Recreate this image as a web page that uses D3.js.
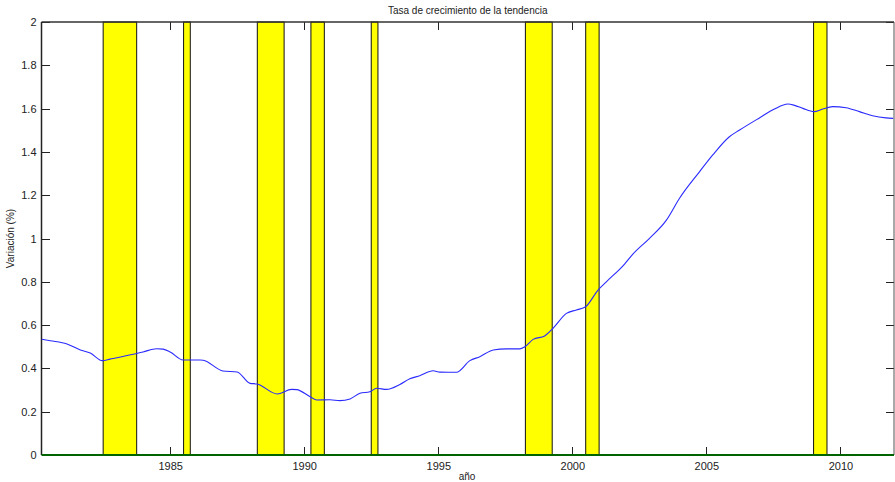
<!DOCTYPE html>
<html>
<head>
<meta charset="utf-8">
<script src="https://cdn.jsdelivr.net/npm/d3@7"></script>
<style>
  body { margin: 0; background: #fff; }
  text { font-family: "Liberation Sans", Arial, sans-serif; fill: #222; }
</style>
</head>
<body>
<svg id="chart" width="895" height="482"></svg>
<script>
// años (lectura del gráfico) y tasa de crecimiento de la tendencia (%)
var years = [1980.21, 1980.53, 1981.15, 1981.65, 1982.02, 1982.47, 1982.76, 1983.62, 1983.99, 1984.50,
  1984.74, 1985.00, 1985.48, 1986.12, 1986.23, 1986.97, 1987.50, 1987.98, 1988.24, 1988.99,
  1989.53, 1989.72, 1990.22, 1990.47, 1990.96, 1991.33, 1991.71, 1992.08, 1992.45, 1992.70,
  1993.07, 1993.57, 1993.94, 1994.31, 1994.81, 1995.06, 1995.68, 1996.18, 1996.55, 1997.05,
  1997.54, 1998.04, 1998.23, 1998.54, 1998.97, 1999.28, 1999.78, 2000.15, 2000.50, 2000.96,
  2001.27, 2001.95, 2002.26, 2002.88, 2003.51, 2004.00, 2004.75, 2005.24, 2005.86, 2006.24,
  2006.98, 2007.54, 2008.04, 2008.29, 2008.60, 2009.02, 2009.34, 2009.71, 2010.21, 2010.71,
  2011.20, 2011.70, 2011.97];
var tasa = [0.535, 0.528, 0.513, 0.485, 0.471, 0.436, 0.443, 0.465, 0.476, 0.491,
  0.489, 0.476, 0.439, 0.439, 0.438, 0.388, 0.383, 0.331, 0.328, 0.282,
  0.303, 0.302, 0.269, 0.254, 0.255, 0.251, 0.259, 0.285, 0.292, 0.308,
  0.303, 0.326, 0.352, 0.366, 0.389, 0.383, 0.382, 0.436, 0.454, 0.485,
  0.490, 0.490, 0.500, 0.534, 0.550, 0.585, 0.654, 0.670, 0.685, 0.762,
  0.800, 0.882, 0.928, 1.001, 1.085, 1.186, 1.309, 1.386, 1.470, 1.501,
  1.557, 1.598, 1.621, 1.615, 1.601, 1.586, 1.598, 1.609, 1.604, 1.586,
  1.567, 1.557, 1.555];

// periodos sombreados (inicio, fin)
var bandStart = [1982.5, 1985.5, 1988.25, 1990.25, 1992.5, 1998.25, 2000.5, 2009.0];
var bandEnd = [1983.75, 1985.75, 1989.25, 1990.75, 1992.75, 1999.25, 2001.0, 2009.5];

var xTicks = [1985, 1990, 1995, 2000, 2005, 2010];
var yTicks = [0, 0.2, 0.4, 0.6, 0.8, 1, 1.2, 1.4, 1.6, 1.8, 2];

var mLeft = 41.5, mRight = 894, mTop = 22, mBottom = 455;
var tickLen = 8;

var svg = d3.select('#chart');

var x = d3.scaleLinear().domain([1980.2, 2012.0]).range([mLeft, mRight]);
var y = d3.scaleLinear().domain([0, 2]).range([mBottom, mTop]);

var bands = d3.range(bandStart.length).map(function (i) {
  return { a: bandStart[i], b: bandEnd[i] };
});

svg.append('g').selectAll('rect')
  .data(bands)
  .enter().append('rect')
  .attr('x', function (d) { return x(d.a); })
  .attr('y', mTop)
  .attr('width', function (d) { return x(d.b) - x(d.a); })
  .attr('height', mBottom - mTop)
  .attr('fill', '#ffff00')
  .attr('stroke', '#111')
  .attr('stroke-width', 1);

// etiquetas de los ejes (las marcas se dibujan aparte, hacia dentro)
var fmt = function (d) { return d3.format('~g')(d); };

svg.append('g')
  .attr('transform', 'translate(0,' + mBottom + ')')
  .call(d3.axisBottom(x).tickValues(xTicks).tickSize(0).tickPadding(7).tickFormat(d3.format('d')))
  .call(function (g) {
    g.select('.domain').remove();
    g.selectAll('text').style('font-size', '11px');
  });

svg.append('g')
  .attr('transform', 'translate(' + mLeft + ',0)')
  .call(d3.axisLeft(y).tickValues(yTicks).tickSize(0).tickPadding(5).tickFormat(fmt))
  .call(function (g) {
    g.select('.domain').remove();
    g.selectAll('text').style('font-size', '11px');
  });

var ticks = svg.append('g')
  .attr('stroke', '#222')
  .attr('stroke-width', 1)
  .attr('shape-rendering', 'crispEdges');

// marcas x: abajo y arriba
[mBottom, mTop].forEach(function (base, j) {
  ticks.selectAll('line.xt' + j)
    .data(xTicks)
    .enter().append('line')
    .attr('class', 'xt' + j)
    .attr('x1', function (d) { return Math.round(x(d)) + 0.5; })
    .attr('x2', function (d) { return Math.round(x(d)) + 0.5; })
    .attr('y1', base)
    .attr('y2', j === 0 ? base - tickLen : base + tickLen);
});

// marcas y: izquierda y derecha
[mLeft, mRight].forEach(function (base, j) {
  ticks.selectAll('line.yt' + j)
    .data(yTicks)
    .enter().append('line')
    .attr('class', 'yt' + j)
    .attr('y1', function (d) { return Math.round(y(d)) + 0.5; })
    .attr('y2', function (d) { return Math.round(y(d)) + 0.5; })
    .attr('x1', base)
    .attr('x2', j === 0 ? base + tickLen : base - tickLen);
});

// marco
svg.append('line').attr('x1', mLeft).attr('x2', mRight).attr('y1', mTop).attr('y2', mTop)
  .attr('stroke', '#333').attr('stroke-width', 1.5);
svg.append('line').attr('x1', mLeft).attr('x2', mLeft).attr('y1', mTop).attr('y2', mBottom)
  .attr('stroke', '#222').attr('stroke-width', 1.5);
svg.append('line').attr('x1', mRight).attr('x2', mRight).attr('y1', mTop).attr('y2', mBottom)
  .attr('stroke', '#555').attr('stroke-width', 1);

// línea de cero
svg.append('line')
  .attr('x1', mLeft).attr('x2', mRight)
  .attr('y1', y(0)).attr('y2', y(0))
  .attr('stroke', '#006400').attr('stroke-width', 2);

var line = d3.line()
  .x(function (d, i) { return x(years[i]); })
  .y(function (d) { return y(d); })
  .curve(d3.curveMonotoneX);

svg.append('path')
  .datum(tasa)
  .attr('d', line)
  .attr('fill', 'none')
  .attr('stroke', '#2a2aff')
  .attr('stroke-width', 1.1);

svg.append('text')
  .attr('x', (mLeft + mRight) / 2)
  .attr('y', 14)
  .attr('text-anchor', 'middle')
  .style('font-size', '10px')
  .text('Tasa de crecimiento de la tendencia');

svg.append('text')
  .attr('x', 467)
  .attr('y', 480)
  .attr('text-anchor', 'middle')
  .style('font-size', '10px')
  .text('año');

svg.append('text')
  .attr('transform', 'translate(14,' + ((mTop + mBottom) / 2) + ') rotate(-90)')
  .attr('text-anchor', 'middle')
  .style('font-size', '10px')
  .text('Variación (%)');
</script>
</body>
</html>
